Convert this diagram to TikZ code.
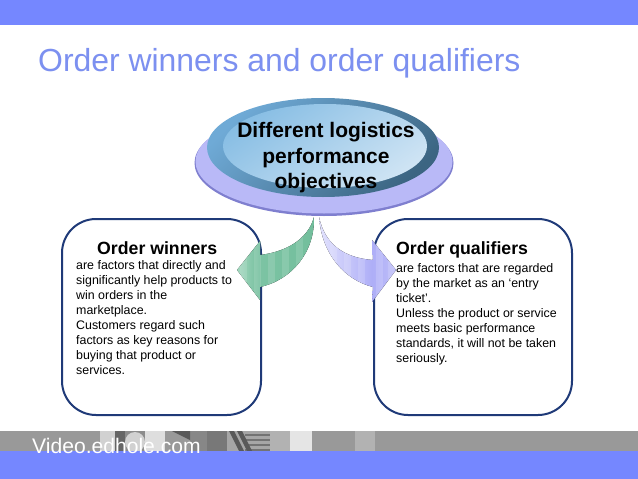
\documentclass[tikz,border=0pt]{standalone}
\usepackage{fontspec}
\setmainfont{Liberation Sans}
\usetikzlibrary{positioning}
\definecolor{band}{HTML}{7587FF}
\definecolor{titleblue}{HTML}{7C90F0}
\definecolor{boxline}{HTML}{1F3A78}
\definecolor{lav}{HTML}{B9B9F7}
\definecolor{lavdark}{HTML}{7F7FCF}
\definecolor{ringlight}{HTML}{6FAAD6}
\definecolor{ringdark}{HTML}{3C6582}
\definecolor{eyelight}{HTML}{88BEE4}
\definecolor{eyepale}{HTML}{CFE4F4}
\definecolor{greenlight}{HTML}{A5D8C0}
\definecolor{greendark}{HTML}{72BE9C}
\definecolor{vioflight}{HTML}{E2E2FD}
\definecolor{viofdark}{HTML}{AEAEF7}
\begin{document}
\begin{tikzpicture}[x=1pt,y=-1pt]
  \tikzset{infobox/.style={draw=boxline,line width=2pt,fill=white,rounded corners=34pt},
           heading/.style={font=\bfseries\fontsize{17.7}{20}\selectfont,anchor=west,inner sep=0pt},
           bodytext/.style={font=\fontsize{12.4}{14.9}\selectfont,align=left,anchor=north west,inner sep=0pt}}
  \useasboundingbox (0,0) rectangle (638,479);
  % bands
  \fill[band] (0,0) rectangle (638,25);
  \fill[white] (0,25) rectangle (638,431);
  \fill[black!40] (0,431) rectangle (638,451);
  \foreach \xa/\xb/\shade in {100/115/18,115/125/60,125/145/45,145/165/13,165/190/40,190/207/47,207/227/53,
      227/245/35,245/270/35,270/290/30,290/312/10,355/375/30}
    \fill[black!\shade] (\xa,431) rectangle (\xb,451);
  \fill[black!18] (135,442) circle (10);
  \foreach \ya in {434,439,444,449}
    \fill[black!55] (245,\ya) rectangle (270,\ya+2);
  \foreach \xa in {229,237}
    \fill[black!65] (\xa,431) -- (\xa+5,431) -- (\xa+15,451) -- (\xa+10,451) -- cycle;
  \fill[black!65] (172,431) -- (190,431) -- (190,440) -- cycle;
  \fill[band] (0,451) rectangle (638,479);
  \node[anchor=west,inner sep=0pt,text=titleblue,font=\fontsize{31.9}{36}\selectfont] (title) at (38,63) {Order winners and order qualifiers};
  \node[anchor=west,inner sep=0pt,text=white,font=\fontsize{21.1}{24}\selectfont] (site) at (32,446) {Video.edhole.com};
  % boxes
  \draw[infobox] (62,219) rectangle (261,415);
  \draw[infobox] (374,219) rectangle (572,415);
  % left arrow
  \begin{scope}
    \clip (314,217) .. controls (308,240) and (285,252) .. (260,255) -- (260,241) -- (237,270) -- (260,300) -- (260,287)
      .. controls (292,280) and (315,252) .. (314,217) -- cycle;
    \fill[left color=greenlight,right color=greendark] (237,217) rectangle (260,300);
    \fill[left color=greendark!80!greenlight,right color=greendark] (260,217) rectangle (314,300);
    \foreach \xa in {240,254,268,282,296}
      \fill[white,opacity=.13] (\xa,217) rectangle (\xa+7,300);
  \end{scope}
  % right arrow
  \begin{scope}
    \clip (319,217) .. controls (325,245) and (345,258) .. (373,260) -- (372,240) -- (396,270) -- (372,302) -- (373,287)
      .. controls (345,280) and (322,255) .. (319,217) -- cycle;
    \fill[left color=vioflight,right color=viofdark] (319,217) rectangle (372,302);
    \fill[left color=viofdark,right color=viofdark!70!vioflight] (372,217) rectangle (396,302);
    \foreach \xa in {330,344,358,376,388}
      \fill[white,opacity=.15] (\xa,217) rectangle (\xa+7,302);
  \end{scope}
  % ellipses
  \fill[lavdark] (324,163) ellipse (129.5 and 53);
  \fill[lav] (324,161.5) ellipse (128.5 and 52);
  \path[top color=ringlight,bottom color=ringdark,shading angle=45] (323,147.5) ellipse (116 and 49.5);
  \path[top color=eyelight,bottom color=eyepale,shading angle=35] (325,146) ellipse (102 and 42);
  % labels
  \node[align=center,inner sep=0pt,font=\bfseries\fontsize{21}{25.5}\selectfont] (centre) at (326,158) {Different logistics\\performance\\objectives};
  \node[heading] (winners) at (97,248) {Order winners};
  \node[bodytext,below=6pt of winners.south west,anchor=north west,xshift=-21pt] (winnerstext) {are factors that directly and\\significantly help products to\\win orders in the\\marketplace.\\Customers regard such\\factors as key reasons for\\buying that product or\\services.};
  \node[heading] (qualifiers) at (396,250) {Order qualifiers};
  \node[bodytext,below=5pt of qualifiers.south west,anchor=north west] (qualifierstext) {are factors that are regarded\\by the market as an ‘entry\\ticket’.\\Unless the product or service\\meets basic performance\\standards, it will not be taken\\seriously.};
\end{tikzpicture}
\end{document}
